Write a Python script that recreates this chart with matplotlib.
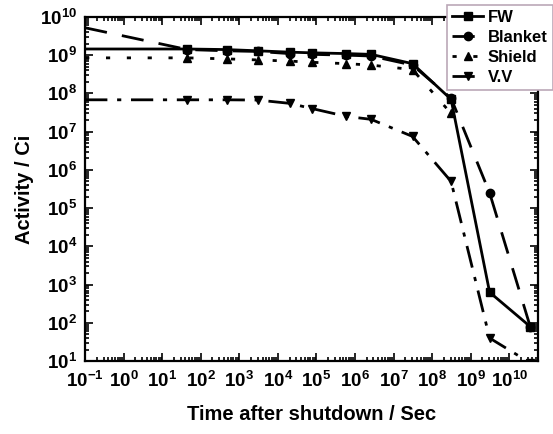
import numpy as np
import matplotlib
matplotlib.use("Agg")
import matplotlib.pyplot as plt
from matplotlib.ticker import LogLocator, FuncFormatter, NullFormatter

plt.rcParams['font.family'] = ['Liberation Sans', 'DejaVu Sans']
plt.rcParams['font.weight'] = 'bold'
plt.rcParams['mathtext.fontset'] = 'custom'
plt.rcParams['mathtext.bf'] = 'Liberation Sans:bold'
plt.rcParams['mathtext.rm'] = 'Liberation Sans:bold'

# time after shutdown (s)
t = [0.1, 45, 470, 3.0e3, 2.0e4, 7.8e4, 6.0e5, 2.6e6, 3.1e7, 3.1e8, 3.1e9, 3.5e10]

# activity (Ci) per component
fw      = [1.45e9, 1.45e9, 1.4e9, 1.3e9, 1.2e9, 1.15e9, 1.1e9, 1.05e9, 6.0e8, 7.0e7, 6.3e2, 8.0e1]
blanket = [5.2e9, 1.4e9, 1.3e9, 1.25e9, 1.1e9, 1.05e9, 1.0e9, 9.5e8, 5.5e8, 7.5e7, 2.5e5, 8.0e1]
shield  = [8.5e8, 8.5e8, 8.0e8, 7.5e8, 7.0e8, 6.5e8, 6.0e8, 5.5e8, 4.2e8, 3.0e7, np.nan, np.nan]
vv      = [6.8e7, 6.8e7, 6.8e7, 6.7e7, 5.5e7, 4.0e7, 2.5e7, 2.1e7, 7.5e6, 5.0e5, 4.0e1, 9.0]

fig = plt.figure(figsize=(5.53, 4.34), dpi=100)
ax = fig.add_axes([0.154, 0.168, 0.819, 0.793])

mk = dict(color='black', lw=2.0, ms=6, markevery=slice(1, None))
ax.plot(t, fw, ls='-', marker='s', label='FW', **mk)
ax.plot(t, blanket, ls=(0, (8, 5.5)), marker='o', label='Blanket', **mk)
ax.plot(t, shield, ls=(0, (1.5, 6)), marker='^', label='Shield', **mk)
ax.plot(t, vv, ls=(0, (8, 3.5, 1.5, 3.5)), marker='v', label='V.V', **mk)

ax.set_xscale('log')
ax.set_yscale('log')
ax.set_xlim(1e-1, 5.6e10)
ax.set_ylim(1e1, 1e10)

ax.xaxis.set_major_locator(LogLocator(base=10, numticks=20))
ax.yaxis.set_major_locator(LogLocator(base=10, numticks=20))
ax.xaxis.set_minor_locator(LogLocator(base=10, subs=np.arange(2, 10), numticks=20))
ax.yaxis.set_minor_locator(LogLocator(base=10, subs=np.arange(2, 10), numticks=20))
pow10 = FuncFormatter(lambda v, p: r'$\mathbf{10^{%d}}$' % round(np.log10(v)))
ax.xaxis.set_major_formatter(pow10)
ax.yaxis.set_major_formatter(pow10)
ax.xaxis.set_minor_formatter(NullFormatter())
ax.yaxis.set_minor_formatter(NullFormatter())

ax.tick_params(which='both', direction='in', top=True, right=True, width=1.2)
ax.tick_params(which='major', length=6, labelsize=13.5)
ax.tick_params(axis='x', which='major', pad=7)
ax.tick_params(axis='y', which='major', pad=6)
ax.tick_params(which='minor', length=3)
for s in ax.spines.values():
    s.set_linewidth(1.6)

ax.set_xlabel('Time after shutdown / Sec', fontsize=14.5, fontweight='bold', labelpad=10)
ax.set_ylabel('Activity / Ci', fontsize=14.5, fontweight='bold', labelpad=4)

leg = fig.legend(loc='upper left', bbox_to_anchor=(0.808, 0.988), fontsize=12,
                 handlelength=1.9, handletextpad=0.25, borderpad=0.3,
                 labelspacing=0.3, borderaxespad=0, fancybox=False,
                 edgecolor='#bba8b8', framealpha=1)
leg.get_frame().set_linewidth(1.2)

fig.savefig('out.png', dpi=100)
